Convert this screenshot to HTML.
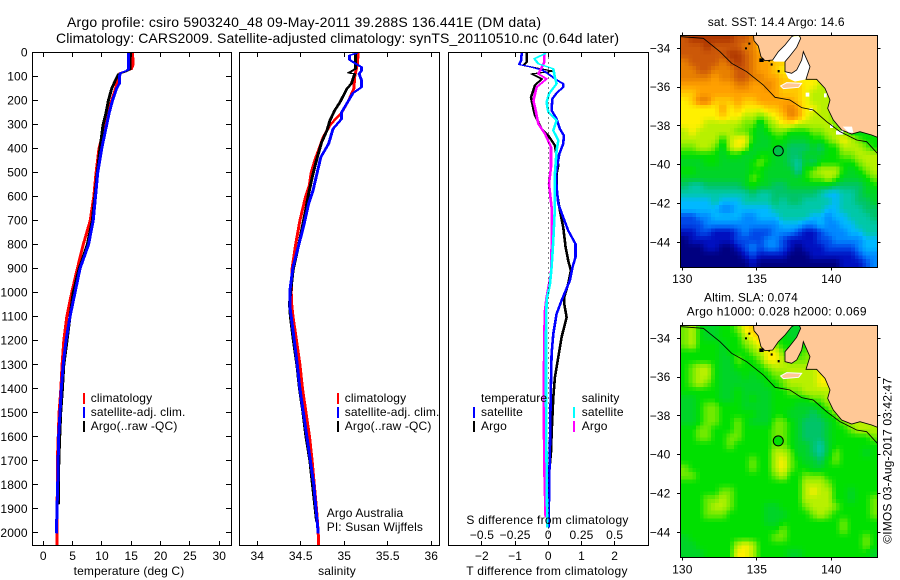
<!DOCTYPE html>
<html>
<head>
<meta charset="utf-8">
<title>Argo profile 5903240_48</title>
<style>
html,body{margin:0;padding:0;background:#fff;}
svg{display:block;}
text{font-family:"Liberation Sans",sans-serif;font-size:12px;fill:#000;letter-spacing:.14px;}
</style>
</head>
<body>
<svg id="chart" xmlns="http://www.w3.org/2000/svg" width="900" height="580" viewBox="0 0 900 580">
  <defs>
    <clipPath id="clip-temp"><rect x="32.5" y="52.5" width="199" height="493"/></clipPath>
    <clipPath id="clip-sal"><rect x="239.5" y="52.5" width="200" height="493"/></clipPath>
    <clipPath id="clip-diff"><rect x="448.5" y="52.5" width="200" height="493"/></clipPath>
    <clipPath id="clip-map1"><rect x="681" y="35" width="196.5" height="232"/></clipPath>
    <clipPath id="clip-map2"><rect x="681" y="325" width="196.5" height="232"/></clipPath>
  </defs>

  <text x="67" y="27" style="font-size:14px;letter-spacing:0" textLength="474" lengthAdjust="spacing">Argo profile: csiro 5903240_48 09-May-2011 39.288S 136.441E (DM data)</text>
  <text x="56" y="43" style="font-size:14px;letter-spacing:0" textLength="563" lengthAdjust="spacing">Climatology: CARS2009. Satellite-adjusted climatology: synTS_20110510.nc (0.64d later)</text>

  <rect x="32.5" y="52.5" width="199" height="493" fill="#fff"/>
  <rect x="239.5" y="52.5" width="200" height="493" fill="#fff"/>
  <rect x="448.5" y="52.5" width="200" height="493" fill="#fff"/>

  <g id="temp-lines" clip-path="url(#clip-temp)"></g>
  <g id="sal-lines" clip-path="url(#clip-sal)"></g>
  <g id="diff-lines" clip-path="url(#clip-diff)"></g>
  <g id="axes"></g>

  <text x="129" y="575" text-anchor="middle">temperature (deg C)</text>
  <text x="337" y="575" text-anchor="middle">salinity</text>
  <text x="547" y="575" text-anchor="middle" style="letter-spacing:.27px">T difference from climatology</text>
  <text x="547.5" y="524" text-anchor="middle" style="letter-spacing:.27px">S difference from climatology</text>

  <g>
    <rect x="83" y="393" width="2" height="11" fill="#f00"/>
    <text x="90.7" y="402">climatology</text>
    <rect x="83" y="407" width="2" height="11" fill="#00f"/>
    <text x="90.7" y="416">satellite-adj. clim.</text>
    <rect x="83" y="421" width="2" height="11" fill="#000"/>
    <text x="90.7" y="430">Argo(..raw -QC)</text>
  </g>
  <g>
    <rect x="337" y="393" width="2" height="11" fill="#f00"/>
    <text x="344.7" y="402">climatology</text>
    <rect x="337" y="407" width="2" height="11" fill="#00f"/>
    <text x="344.7" y="416">satellite-adj. clim.</text>
    <rect x="337" y="421" width="2" height="11" fill="#000"/>
    <text x="344.7" y="430">Argo(..raw -QC)</text>
  </g>
  <text x="326.7" y="517">Argo Australia</text>
  <text x="326.7" y="531">PI: Susan Wijffels</text>

  <g>
    <text x="481" y="402">temperature</text>
    <rect x="473" y="407" width="2" height="11" fill="#00f"/>
    <text x="481" y="416">satellite</text>
    <rect x="473" y="421" width="2" height="11" fill="#000"/>
    <text x="481" y="430">Argo</text>
    <text x="581.7" y="402">salinity</text>
    <rect x="573" y="407" width="2" height="11" fill="#0ff"/>
    <text x="581.7" y="416">satellite</text>
    <rect x="573" y="421" width="2" height="11" fill="#f0f"/>
    <text x="581.7" y="430">Argo</text>
  </g>

  <!-- Maps -->
  <text x="707.7" y="26" textLength="137" lengthAdjust="spacing">sat. SST: 14.4  Argo: 14.6</text>
  <text x="704" y="301.5" textLength="94" lengthAdjust="spacing">Altim. SLA: 0.074</text>
  <text x="686.7" y="315.5" textLength="180" lengthAdjust="spacing">Argo h1000: 0.028 h2000: 0.069</text>

  <g id="map1" clip-path="url(#clip-map1)"></g>
  <g id="map1-over" clip-path="url(#clip-map1)">
    <g transform="translate(650,10) scale(0.33333)">
      <path fill="#fff" d="M368,150 L385,125 L405,105 L425,80 L445,78 L452,85 L440,112 L418,140 L405,155 L372,155 Z"/>
      <path fill="#fff" d="M405,185 L425,190 L440,180 L455,150 L460,125 L480,170 L468,208 L435,215 L415,205 Z"/>
      <path fill="#ffc896" stroke="#000" stroke-width="2.5" d="M310,70 L312,92 L325,108 L333,140 L345,152 L368,150 L385,125 L405,105 L425,80 L445,70 L452,85 L440,112 L418,140 L405,155 L405,185 L425,190 L440,180 L455,150 L460,125 L480,170 L468,208 L480,208 L500,208 L525,235 L540,270 L533,295 L550,330 L575,360 L605,372 L630,365 L665,375 L690,385 L690,70 Z"/>
      <path fill="#ffc896" stroke="#fff" stroke-width="3" d="M392,228 L410,218 L455,220 L446,232 L400,236 Z"/>
      <path fill="#fff" d="M467,248 h11 v12 h-11 Z M478,295 h10 v7 h-10 Z M522,250 h8 v12 h-8 Z M540,344 h9 v10 h-9 Z M558,362 h22 v12 h-22 Z M578,350 h28 l4,18 h-14 Z"/>
      <path fill="none" stroke="#000" stroke-width="2.5" d="M93,80 L160,85 L210,125 L245,160 L290,185 L340,225 L375,262 L420,270 L455,293 L490,300 L530,335 L570,365 L620,390 L650,395 L682,430"/>
      <path fill="#000" d="M285,112 h6 v6 h-6 Z M295,98 h6 v6 h-6 Z M328,145 h13 v11 h-13 Z M362,160 h6 v7 h-6 Z M383,180 h6 v7 h-6 Z M355,150 h5 v5 h-5 Z"/>
    </g>
  </g>
  <g id="map2" clip-path="url(#clip-map2)"></g>
  <g id="map2-over" clip-path="url(#clip-map2)">
    <g transform="translate(650,300) scale(0.33333)">
      <path fill="#ffc896" stroke="#000" stroke-width="2.5" d="M310,70 L312,92 L325,108 L333,140 L345,152 L368,150 L385,125 L405,105 L425,80 L445,70 L452,85 L440,112 L418,140 L405,155 L405,185 L425,190 L440,180 L455,150 L460,125 L480,170 L468,208 L480,208 L500,208 L525,235 L540,270 L533,295 L550,330 L575,360 L605,372 L630,365 L665,375 L690,385 L690,70 Z"/>
      <path fill="#ffc896" stroke="#fff" stroke-width="3" d="M392,228 L410,218 L455,220 L446,232 L400,236 Z"/>
      <path fill="none" stroke="#000" stroke-width="2.5" d="M93,80 L160,85 L210,125 L245,160 L290,185 L340,225 L375,262 L420,270 L455,293 L490,300 L530,335 L570,365 L620,390 L650,395 L682,430"/>
      <path fill="#000" d="M285,112 h6 v6 h-6 Z M295,98 h6 v6 h-6 Z M328,145 h13 v11 h-13 Z M362,160 h6 v7 h-6 Z M383,180 h6 v7 h-6 Z M355,150 h5 v5 h-5 Z"/>
    </g>
  </g>
  <g id="map-axes"></g>

  <text transform="translate(891.5,460.8) rotate(-90)" text-anchor="middle">©IMOS 03-Aug-2017 03:42:47</text>
</svg>

<script>
// ---- axis ticks ----
const depthTicks = [0,100,200,300,400,500,600,700,800,900,1000,1100,1200,1300,1400,1500,1600,1700,1800,1900,2000];
const tempTicks = [0,5,10,15,20,25,30];
const salTicks = [34,34.5,35,35.5,36];
const tDiffTicks = [-2,-1,0,1,2];
const sDiffTicks = [-0.5,-0.25,0,0.25,0.5];
const lonTicks = [130,135,140];
const latTicks = [-34,-36,-38,-40,-42,-44];

// ---- temperature profiles ----
const tempClimDepth = [0,50,70,85,120,150,200,250,300,400,500,600,700,800,900,1000,1100,1200,1300,1400,1500,1700,1800,2000,2052];
const tempClimValue = [15.2,15.3,15.0,13.1,12.6,12.3,11.65,11.1,10.5,9.5,9.0,8.6,8.0,6.8,5.8,4.84,4.0,3.5,3.2,3.0,2.7,2.4,2.4,2.3,2.3];
const tempSatDepth = [0,70,75,85,100,130,150,200,250,300,400,500,600,700,800,900,1000,1100,1200,1300,1400,1500,1600,1800,1950,2000];
const tempSatValue = [14.5,14.5,14.3,13.2,12.95,12.95,12.5,11.8,11.25,10.8,9.95,9.27,8.9,8.5,7.7,6.25,5.4,4.55,3.87,3.4,3.07,2.85,2.6,2.45,2.28,2.28];
const tempArgoDepth = [0,70,80,90,120,150,200,250,300,400,500,600,700,800,900,1000,1100,1200,1300,1400,1500,1600,1700,1880];
const tempArgoValue = [14.8,14.8,14.0,12.8,12.2,11.65,11.1,10.7,10.2,9.66,9.2,8.8,8.35,7.5,6.1,5.1,4.55,4.04,3.5,3.25,2.96,2.8,2.65,2.55];

// ---- salinity profiles ----
const salClimDepth = [0,50,100,150,200,250,300,350,400,450,500,550,600,700,800,900,1000,1050,1100,1200,1300,1400,1500,1600,1700,1800,1900,2000,2052];
const salClimValue = [35.16,35.15,35.12,35.11,35.05,34.97,34.84,34.76,34.71,34.66,34.62,34.6,34.555,34.49,34.44,34.4,34.39,34.395,34.41,34.45,34.49,34.52,34.56,34.6,34.63,34.655,34.68,34.7,34.705];
const salSatDepth = [3,12,30,44,61,75,89,117,144,169,200,248,276,318,380,436,498,575,630,727,810,894,991,1060,1100,1200,1300,1400,1500,1600,1700,1800,1900,2000];
const salSatValue = [35.14,35.06,35.06,35.12,35.2,35.2,35.17,35.2,35.2,35.1,35.05,34.97,34.97,34.87,34.82,34.73,34.69,34.64,34.59,34.53,34.47,34.41,34.375,34.375,34.39,34.425,34.46,34.49,34.53,34.57,34.61,34.65,34.675,34.7];
const salArgoDepth = [5,68,85,89,130,151,207,241,283,325,373,436,505,588,658,810,908,991,1046,1100,1200,1300,1400,1500,1600,1700,1800,1900,1950];
const salArgoValue = [35.13,35.13,35.05,35.12,35.08,35.03,34.95,34.89,34.835,34.8,34.74,34.69,34.64,34.59,34.555,34.47,34.41,34.385,34.37,34.38,34.415,34.455,34.485,34.525,34.56,34.605,34.635,34.665,34.68];

// ---- differences from climatology ----
const dTSatDepth = [3,33,50,58,72,89,114,130,144,169,193,241,276,318,346,380,422,463,505,561,630,686,741,797,852,894,949,1032,1088,1171,1254,1449,1629,1768,1976];
const dTSatValue = [-0.8,-0.82,-0.88,-0.6,-0.2,0,0.25,0.45,0.45,0.25,0.12,0.1,0.25,0.35,0.47,0.45,0.33,0.28,0.23,0.25,0.3,0.45,0.6,0.82,0.82,0.73,0.65,0.4,0.25,0.15,0.1,0.07,0.05,0.03,0.01];
const dTArgoDepth = [3,40,54,78,89,110,137,186,234,262,318,346,387,470,505,575,658,727,810,866,908,963,1019,1046,1102,1185,1268,1352,1435,1588,1664,1754,1880];
const dTArgoValue = [-0.65,-0.65,-0.75,0.15,-0.5,-0.2,-0.4,-0.52,-0.45,-0.4,-0.2,0,0.2,0.3,0.25,0.25,0.35,0.45,0.52,0.6,0.68,0.6,0.48,0.48,0.55,0.4,0.3,0.2,0.15,0.1,0.08,0.02,0];
const dSSatDepth = [5,26,47,68,103,130,172,207,248,283,325,366,408,505,644,783,894,963,1032,1171,1449,1726,1976];
const dSSatValue = [-0.025,-0.105,-0.075,0.0375,0.05,0.0625,0.005,-0.0125,0,0.0625,0.0375,0.075,0.0625,0.05,0.05,0.0375,0.025,0.0125,-0.0125,-0.0175,-0.0175,-0.0125,-0.0075];
const dSArgoDepth = [5,40,89,110,144,200,241,297,339,394,477,547,644,810,921,1019,1074,1171,1449,1726,1934];
const dSArgoValue = [-0.03,-0.03,-0.075,-0.0125,-0.0875,-0.1125,-0.095,-0.075,-0.025,0.02,0.02,0.005,0.025,0.025,0.02,-0.0125,-0.025,-0.03,-0.035,-0.03,-0.02];

// ---- float position ----
const argoLon = 136.441;
const argoLat = -39.288;

// ---- map colour scale, level 0..16 ----
const mapColors = ['#000080','#0010c0','#0048e8','#0088ff','#00b8ff','#00c8a8','#00c468','#00d428','#00e000','#70ea00','#b8f000','#fff000','#ffc800','#ffa000','#e88000','#cc5808','#b03800'];

// ---- SST map levels: rows north to south, columns west to east ----
const sstLevels = [
[15,16,16,16,16,16,16,15,15,14,12,11,11,11,11,11,11,11,11,11,11,11,11,11,11,11],
[15,15,15,16,15,15,15,15,14,14,12,12,11,11,11,11,11,11,11,11,11,11,11,11,11,11],
[15,15,15,15,15,15,16,16,15,14,13,12,12,11,11,11,11,11,11,11,11,11,11,11,11,11],
[14,15,15,15,15,14,15,16,15,14,13,13,12,12,11,11,11,11,11,11,11,11,11,11,11,11],
[14,14,15,15,14,14,14,15,15,14,13,13,12,11,11,11,11,11,11,11,11,11,11,11,11,11],
[14,14,14,14,13,14,14,15,15,14,14,13,13,12,12,11,11,11,11,11,11,11,11,11,11,11],
[13,13,13,13,13,13,13,14,14,13,13,14,13,12,12,12,11,11,10,10,10,11,11,11,11,11],
[12,12,13,13,13,13,13,13,13,13,13,13,13,12,12,12,11,10,10,10,10,11,11,11,11,11],
[11,12,14,14,12,12,12,13,12,12,13,13,13,13,13,12,11,10,10,10,10,11,11,11,11,11],
[11,11,11,11,11,13,11,12,11,11,11,12,12,13,14,13,11,11,10,10,9,8,8,8,8,8],
[11,11,11,11,11,12,11,11,10,10,9,10,11,12,14,13,11,10,10,10,9,8,8,8,8,8],
[11,11,11,10,10,10,10,10,9,9,7,9,10,11,11,10,10,10,10,10,9,8,7,8,8,8],
[10,11,10,10,10,10,10,9,9,8,7,8,9,9,8,8,8,9,9,10,10,9,8,7,8,8],
[10,10,10,10,10,8,10,11,11,8,7,7,8,8,7,7,7,8,8,9,10,11,10,9,8,8],
[9,9,10,10,9,7,10,11,10,7,7,7,8,7,6,6,6,7,6,8,8,10,10,10,9,8],
[8,8,8,8,8,7,8,8,7,7,8,8,7,7,6,6,7,7,7,8,8,9,9,10,10,10],
[7,7,7,8,8,7,7,7,7,8,9,8,7,7,6,5,7,6,8,8,8,8,8,9,10,10],
[8,8,7,7,7,7,7,7,7,8,8,7,7,7,7,5,8,9,10,10,10,8,7,8,9,10],
[7,7,7,7,7,7,7,7,7,9,8,7,7,7,7,7,8,9,9,10,9,7,7,7,8,9],
[6,5,5,6,6,6,6,6,7,8,7,7,6,6,7,7,7,7,7,7,6,6,6,6,7,8],
[5,5,5,5,5,5,5,5,5,6,5,5,6,6,6,6,6,6,5,4,4,5,5,6,7,7],
[4,4,4,4,5,4,4,4,5,5,5,5,6,5,6,6,5,5,5,5,4,5,5,6,6,7],
[4,4,4,4,4,3,3,4,4,4,4,4,5,5,5,5,5,5,5,4,4,5,5,5,6,6],
[2,2,3,3,4,4,4,4,3,3,4,4,4,5,5,5,5,4,4,3,4,4,5,5,5,6],
[2,2,2,3,3,3,3,3,3,3,3,3,3,4,4,4,3,3,4,3,3,4,4,5,5,5],
[1,1,2,2,1,1,1,2,3,2,2,2,3,3,3,2,1,1,2,3,3,3,4,4,5,5],
[0,1,1,1,1,1,1,2,2,2,2,3,3,2,1,1,1,1,2,2,3,3,3,3,4,4],
[0,0,0,1,1,0,0,1,2,3,2,3,3,2,1,0,1,1,1,2,2,2,2,3,4,4],
[0,0,0,0,0,0,0,0,1,2,1,1,1,1,0,0,0,1,1,1,1,1,1,2,3,3],
[0,0,0,0,0,0,0,0,0,1,0,0,0,0,0,0,0,0,0,0,0,1,1,1,2,3]
];

// ---- SLA map levels ----
const slaLevels = [
[9,10,8,7,7,8,8,9,11,12,12,11,8,8,7,7,7,8,8,8,8,8,8,8,8,8],
[9,10,8,7,7,8,8,8,10,11,12,11,8,8,7,7,7,8,8,8,8,8,8,8,8,8],
[9,10,8,8,8,7,8,8,9,10,11,11,9,8,8,8,8,8,8,8,8,8,8,8,8,8],
[8,8,8,8,8,7,8,8,8,9,10,11,11,9,8,8,9,9,9,8,8,8,8,8,8,8],
[8,8,8,8,8,7,7,9,8,8,9,11,11,10,9,9,9,10,9,9,8,8,8,8,8,8],
[8,9,10,10,8,7,7,8,8,8,8,9,10,10,10,10,10,10,11,11,10,8,8,8,8,8],
[8,9,10,10,8,7,7,7,8,7,8,8,9,9,10,10,10,10,11,11,10,8,8,8,8,8],
[8,9,10,9,8,7,7,7,7,7,7,8,8,9,10,10,10,10,11,11,10,8,8,8,8,8],
[8,8,8,8,8,7,7,8,7,7,7,7,8,8,9,9,10,10,10,10,11,10,8,8,8,8],
[7,7,8,8,8,7,7,8,7,8,7,7,8,8,8,8,8,9,9,10,10,10,9,8,8,8],
[7,7,8,9,9,8,8,8,7,7,7,7,8,8,8,7,7,7,8,9,10,10,10,9,8,8],
[7,7,8,9,9,8,8,8,8,8,7,7,8,8,7,7,7,6,7,8,9,10,10,11,10,9],
[7,7,8,9,9,8,8,9,8,7,7,7,9,9,8,7,6,6,6,7,8,9,10,10,10,9],
[8,8,9,9,8,8,8,9,8,8,8,8,9,9,8,7,6,6,6,7,8,8,9,10,10,10],
[8,8,9,9,8,8,9,9,8,8,8,8,9,9,8,7,6,6,6,7,8,8,8,8,8,9],
[8,8,8,8,8,8,9,8,8,8,8,8,9,9,8,7,7,6,5,7,8,8,8,8,8,8],
[8,8,8,8,8,8,8,8,8,8,8,8,10,10,9,7,7,6,5,7,9,8,8,8,7,8],
[8,8,8,8,8,8,8,8,8,9,8,8,10,11,9,8,7,7,6,8,9,8,8,8,8,8],
[9,8,8,8,8,8,8,8,8,9,8,8,10,11,9,8,8,7,7,8,8,8,8,8,8,8],
[9,9,8,8,8,8,8,8,8,8,8,8,9,10,8,8,9,9,9,8,8,8,8,8,8,8],
[8,8,8,8,8,8,8,8,8,8,8,8,8,8,8,8,10,10,10,9,8,8,8,8,8,8],
[8,8,8,8,8,9,9,8,8,8,8,8,8,8,8,8,10,11,10,10,8,8,7,8,8,8],
[8,8,8,9,9,10,9,8,8,8,8,8,8,8,8,8,10,10,10,10,8,8,7,8,8,9],
[8,8,8,9,10,10,9,8,8,8,8,7,7,8,8,8,9,10,10,10,9,8,8,8,8,9],
[8,8,8,9,9,9,8,8,8,8,8,7,7,7,8,8,8,9,10,9,8,8,8,8,8,9],
[8,8,8,8,8,8,8,8,8,8,8,7,7,8,8,8,8,8,8,8,8,9,8,8,8,8],
[8,8,8,8,8,8,8,8,8,8,8,8,8,9,8,8,8,8,8,8,8,9,8,8,8,8],
[7,8,8,8,8,8,8,8,8,8,8,8,9,9,8,8,8,8,8,8,8,8,8,8,9,8],
[7,7,8,8,8,8,8,10,11,10,8,8,8,8,8,8,8,8,8,8,8,8,8,8,9,8],
[7,7,7,8,8,8,8,11,11,10,8,8,8,8,7,7,8,8,8,8,8,8,8,8,8,7]
];

const NS = 'http://www.w3.org/2000/svg';
function make(tag, parent, attrs) {
  const el = document.createElementNS(NS, tag);
  for (const k in attrs) el.setAttribute(k, attrs[k]);
  parent.appendChild(el);
  return el;
}

// ---- axis functions ----
const yDepth = d => 52.5 + 0.2402 * d;
const xTemp = v => 43.3 + 5.867 * v;
const xSal = v => 257.3 + 87 * (v - 34);
const xDT = v => 548.3 + 33.2 * v;
const xDS = v => 548.3 + 132.8 * v;
const xLon = lon => 682.3 + 14.9 * (lon - 130);
const yLat1 = lat => 48.3 + 19.4 * (-34 - lat);
const yLat2 = lat => 338.3 + 19.4 * (-34 - lat);

// profile lines use a horizontal brush: wide on steep runs, thin on flat runs
function drawSeries(parentId, xFn, depths, values, color, brush, name) {
  const parent = document.getElementById(parentId);
  const left = depths.map((d, i) => (xFn(values[i]) - brush / 2).toFixed(1) + ',' + yDepth(d).toFixed(1));
  const right = depths.map((d, i) => (xFn(values[i]) + brush / 2).toFixed(1) + ',' + yDepth(d).toFixed(1)).reverse();
  const el = make('polygon', parent, {points: left.concat(right).join(' '), fill: color, stroke: color, 'stroke-width': 1, 'stroke-linejoin': 'round', 'shape-rendering': 'crispEdges'});
  
  
}

drawSeries('temp-lines', xTemp, tempClimDepth, tempClimValue, '#f00', 2, 'temperature-climatology-line');
drawSeries('temp-lines', xTemp, tempArgoDepth, tempArgoValue, '#000', 2, 'temperature-argo-line');
drawSeries('temp-lines', xTemp, tempSatDepth, tempSatValue, '#00f', 2, 'temperature-satellite-line');

drawSeries('sal-lines', xSal, salClimDepth, salClimValue, '#f00', 2, 'salinity-climatology-line');
drawSeries('sal-lines', xSal, salArgoDepth, salArgoValue, '#000', 2, 'salinity-argo-line');
drawSeries('sal-lines', xSal, salSatDepth, salSatValue, '#00f', 2, 'salinity-satellite-line');

drawSeries('diff-lines', xDT, dTArgoDepth, dTArgoValue, '#000', 1.6, 't-difference-argo-line');
drawSeries('diff-lines', xDT, dTSatDepth, dTSatValue, '#00f', 1.6, 't-difference-satellite-line');
drawSeries('diff-lines', xDS, dSArgoDepth, dSArgoValue, '#f0f', 1.6, 's-difference-argo-line');
drawSeries('diff-lines', xDS, dSSatDepth, dSSatValue, '#0ff', 1.6, 's-difference-satellite-line');

// zero reference line
const diffGroup = document.getElementById('diff-lines');
const zeroLine = make('line', diffGroup, {x1: xDT(0), x2: xDT(0), y1: 52.5, y2: 545.5, stroke: '#000', 'stroke-width': 1, 'stroke-dasharray': '1 4', 'shape-rendering': 'crispEdges'});



// ---- profile axes ----
const axes = document.getElementById('axes');
const panelBoxes = [[32.5,231.5],[239.5,439.5],[448.5,648.5]];
panelBoxes.forEach(b => {
  const frame = make('rect', axes, {x: b[0], y: 52.5, width: b[1] - b[0], height: 493, fill: 'none', stroke: '#000', 'stroke-width': 1, 'shape-rendering': 'crispEdges'});
  
  
});

function tickSeg(parent, x1, y1, x2, y2) {
  const el = make('line', parent, {x1: x1, y1: y1, x2: x2, y2: y2, stroke: '#000', 'stroke-width': 1, 'shape-rendering': 'crispEdges'});
  
  
}
function label(parent, x, y, txt, anchor) {
  const el = make('text', parent, {x: x, y: y, 'text-anchor': anchor});
  el.textContent = txt;
  
  
}
const fmt = v => String(v).replace('-', '\u2212');

depthTicks.forEach(d => {
  const y = Math.floor(yDepth(d)) + 0.5;
  tickSeg(axes, 32.5, y, 38, y);
  tickSeg(axes, 226, y, 231.5, y);
  label(axes, 27.7, yDepth(d) + 4, String(d), 'end');
});
function xAxis(ticks, fn, labelY) {
  ticks.forEach(v => {
    const x = Math.floor(fn(v)) + 0.5;
    tickSeg(axes, x, 52.5, x, 57);
    tickSeg(axes, x, 541, x, 545.5);
    label(axes, fn(v), labelY, fmt(v), 'middle');
  });
}
xAxis(tempTicks, xTemp, 560);
xAxis(salTicks, xSal, 560);
xAxis(tDiffTicks, xDT, 560);
sDiffTicks.forEach(v => label(axes, xDS(v), 539, fmt(v), 'middle'));

// ---- maps: each level cell is drawn as 2x2 bilinearly blended sub-cells ----
const lonWest = 129.91, lonStep = 0.5073;
const latNorth = -33.33, latStep = 0.398;
function hexToRgb(h) {
  return [parseInt(h.slice(1,3),16), parseInt(h.slice(3,5),16), parseInt(h.slice(5,7),16)];
}
function levelColor(v) {
  const i = Math.min(mapColors.length - 2, Math.floor(v));
  const t = v - i;
  const a = hexToRgb(mapColors[i]), b = hexToRgb(mapColors[i + 1]);
  return 'rgb(' + a.map((c, k) => Math.round(c + (b[k] - c) * t)).join(',') + ')';
}
function sampleLevel(levels, r, c) {
  const rr = Math.max(0, Math.min(levels.length - 1, r));
  const cc = Math.max(0, Math.min(levels[0].length - 1, c));
  const r0 = Math.floor(rr), c0 = Math.floor(cc);
  const r1 = Math.min(levels.length - 1, r0 + 1), c1 = Math.min(levels[0].length - 1, c0 + 1);
  const fr = rr - r0, fc = cc - c0;
  return (levels[r0][c0] * (1 - fc) + levels[r0][c1] * fc) * (1 - fr) + (levels[r1][c0] * (1 - fc) + levels[r1][c1] * fc) * fr;
}
function drawMap(groupId, levels, yLat, cellName) {
  const g = document.getElementById(groupId);
  const sub = 2;
  for (let r = 0; r < levels.length * sub; r++) {
    for (let c = 0; c < levels[0].length * sub; c++) {
      const v = sampleLevel(levels, (r + 0.5) / sub - 0.5, (c + 0.5) / sub - 0.5);
      const x0 = xLon(lonWest + c * lonStep / sub), x1 = xLon(lonWest + (c + 1) * lonStep / sub);
      const y0 = yLat(latNorth - r * latStep / sub), y1 = yLat(latNorth - (r + 1) * latStep / sub);
      const cell = make('rect', g, {x: x0.toFixed(2), y: y0.toFixed(2), width: (x1 - x0 + 0.5).toFixed(2), height: (y1 - y0 + 0.5).toFixed(2), fill: levelColor(v), 'shape-rendering': 'crispEdges'});
      
      
    }
  }
}
drawMap('map1', sstLevels, yLat1, 'sst-cell');
drawMap('map2', slaLevels, yLat2, 'sla-cell');

const mapAxes = document.getElementById('map-axes');
function mapFrame(top, bottom, yLat, xLabelY, name) {
  const fr = make('rect', mapAxes, {x: 680.5, y: top, width: 197, height: bottom - top, fill: 'none', stroke: '#000', 'stroke-width': 1, 'shape-rendering': 'crispEdges'});
  
  
  lonTicks.forEach(v => {
    const x = Math.floor(xLon(v)) + 0.5;
    tickSeg(mapAxes, x, top - 3, x, top);
    tickSeg(mapAxes, x, bottom, x, bottom + 3);
    label(mapAxes, xLon(v), xLabelY, String(v), 'middle');
  });
  latTicks.forEach(v => {
    const y = Math.floor(yLat(v)) + 0.5;
    tickSeg(mapAxes, 677, y, 680.5, y);
    tickSeg(mapAxes, 877.5, y, 880.5, y);
    label(mapAxes, 670.5, yLat(v) + 4, fmt(v), 'end');
  });
  const marker = make('circle', mapAxes, {cx: xLon(argoLon), cy: yLat(argoLat), r: 5, fill: name === 'sst-map-frame' ? '#00c048' : '#00e000', stroke: '#000', 'stroke-width': 1});
  
  
}
mapFrame(35.5, 267.5, yLat1, 283, 'sst-map-frame');
mapFrame(325.5, 557.5, yLat2, 573.5, 'sla-map-frame');
</script>
</body>
</html>
